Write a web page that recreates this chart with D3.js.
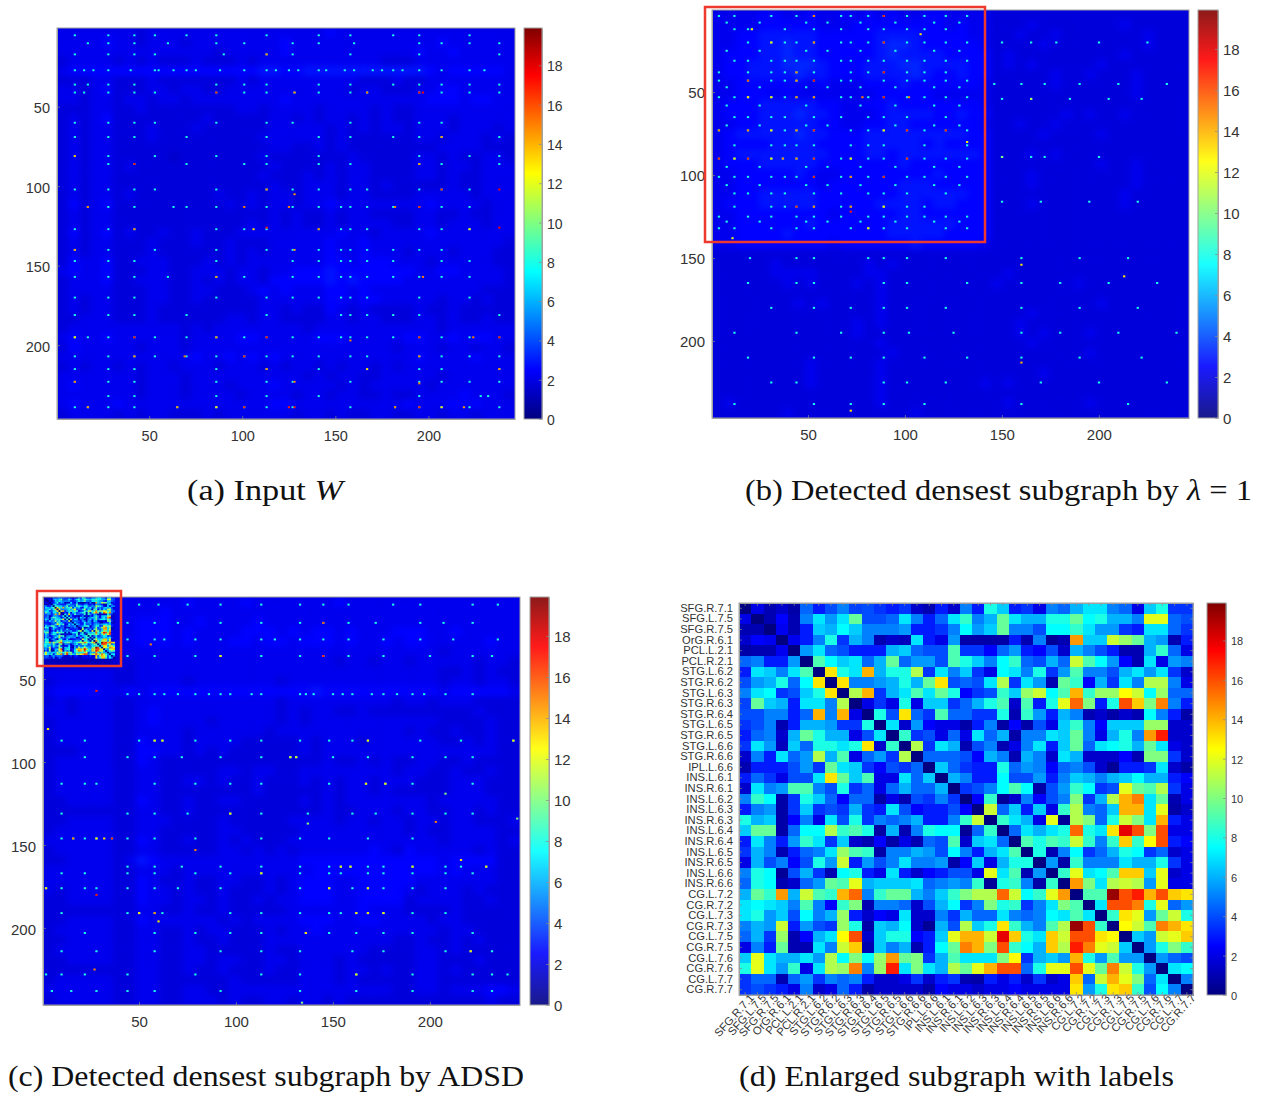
<!DOCTYPE html>
<html>
<head>
<meta charset="utf-8">
<script src="https://d3js.org/d3.v7.min.js"></script>
<style>
  body { margin: 0; background: #fff; }
  svg { display: block; }
  text { font-family: "Liberation Sans", Helvetica, sans-serif; fill: #333; }
  text.caption { font-family: "Liberation Serif", serif; fill: #111; }
</style>
</head>
<body>
<svg id="chart" width="1261" height="1095"></svg>
<script>
// Values. The 246 x 246 matrices are too fine to read
// cell by cell, so each one is a rough estimate: 6-node tiles (digit = level),
// the dotted rows that can be made out ([row, [cols]]) and the brightest cells
// ([row, col, value]).

const nodeTicks = [50, 100, 150, 200];
const barTicks = [0, 2, 4, 6, 8, 10, 12, 14, 16, 18];

const inputTiles = [
  "6666666566 6666666666 6666766666 6666666666 6",
  "6666766566 6566666666 7666666666 6666766666 6",
  "6666666666 6666566666 7666666666 6676676666 6",
  "5666656565 5565556566 6666666665 5566666666 6",
  "6777777777 7777777788 7788888888 8887677777 6",
  "5556655565 5555556566 6666666555 6556666666 6",
  "6656755566 5665566666 6666665665 5566776666 6",
  "6656656656 6566666666 7666666666 6667776776 6",
  "5556655655 5555556656 6665666656 5566666666 6",
  "5656755555 5556555556 6565665656 5566656666 6",
  "5656655565 5565555556 6666565656 6566656665 6",
  "5656655565 5555555566 6666565555 5566566656 5",
  "5656655555 5555555556 6556565555 5555666655 5",
  "5656655555 4555555565 5555556555 5566565566 5",
  "5656656555 5555555556 5555656655 5566566566 6",
  "5656655555 5555555565 5565656655 5566565566 6",
  "5656655555 5555555556 5566656656 5555565566 6",
  "5656656555 5555655656 6566656655 5566666566 6",
  "5756755555 5555565656 6566766666 6667666656 6",
  "5656655555 5555555556 5655656655 5566556556 6",
  "5656655555 5555555656 5655656666 5566566656 6",
  "5756756556 5565556666 6666676656 6667666666 6",
  "5656655565 5565565556 6666766766 6666666666 5",
  "5656655565 5555565656 6666766766 6566656665 5",
  "5766755666 5556565666 6666776777 6665666665 5",
  "6766755566 5566656656 6777877777 7766776666 5",
  "5666755666 5565656657 7777878777 7666666666 5",
  "5666655566 5566555676 7666776766 6666666655 5",
  "5656655566 5565555566 6666776776 6666566565 5",
  "5656655565 5555555566 5655765655 5565565555 5",
  "5566655565 5555566566 5555665665 5566565565 5",
  "5666666666 6565666666 6656666666 6666566666 6",
  "6766766666 6566667766 6667776666 6776676776 6",
  "5766666566 6566666666 6666666666 5666566566 5",
  "6666666666 6676676767 6666666666 6676666766 6",
  "5656656566 5666566656 5665656656 5666666666 6",
  "6666666566 6566666666 6656566556 6666566666 6",
  "6766666566 6566656667 6666656566 6665666666 6",
  "6666666566 6566665666 6566566556 5566667666 5",
  "6766676666 6666666667 7666666666 6766676766 6",
  "5666656566 5556566666 6566565566 5566566566 6"
];

const inputDots = [
  [5,[10,28,42,53,70,86,113,141,158,181,195,222]],
  [10,[17,28,42,60,86,101,127,141,160,195,207,222,238]],
  [17,[10,28,42,53,90,113,127,158,195,238]],
  [27,[10,15,20,28,40,53,55,63,70,75,88,101,113,118,125,130,141,145,155,160,170,175,181,186,195,207,222,230]],
  [36,[10,17,28,42,86,101,113,141,158,181,195,207,222,238]],
  [41,[10,15,28,42,53,86,101,113,128,141,158,167,195,207,222,238]],
  [60,[10,28,42,53,86,113,127,158,195,207]],
  [69,[10,28,42,70,113,141,158,181,195,207,238]],
  [81,[10,28,53,86,113,141,195,222,238]],
  [86,[28,42,70,101,113,141,158,195,207,238]],
  [102,[10,28,42,53,86,113,127,141,158,167,195,207,222]],
  [113,[17,28,42,63,70,86,113,127,141,153,158,167,181,195,207,222]],
  [127,[10,28,42,86,101,113,141,153,158,167,195,207,222]],
  [140,[10,28,53,86,113,127,141,153,158,167,181,195,207]],
  [147,[10,28,42,86,127,141,153,158,167,181,207,222]],
  [157,[10,28,42,60,86,101,127,141,153,158,167,181,195,207,222]],
  [170,[10,28,42,86,113,127,141,153,158,167,195,222]],
  [181,[10,28,42,70,113,153,158,167,181,195,238]],
  [195,[10,17,28,42,53,70,86,101,113,127,141,153,158,167,181,195,207,222,238]],
  [207,[10,28,42,53,70,86,101,113,127,141,158,167,195,207,222,238]],
  [215,[10,28,42,86,113,141,195,207,238]],
  [223,[10,28,42,86,113,127,158,195,207,222,238]],
  [232,[28,42,86,113,141,195,228,232]],
  [239,[10,17,28,42,65,86,101,113,127,158,182,195,207,222,238]]
];

const inputPeaks = [
  [17,113,15],[41,86,17],[41,128,15],[41,167,15],[41,195,17.5],[41,197,17.5],[86,42,17.5],[81,10,14],
  [86,195,14.5],[69,207,14.5],[102,113,15],[105,128,14.5],[102,207,17],[102,238,17.5],[113,17,15],
  [113,101,15],[113,125,15],[113,182,15],[113,195,17],[126,238,17.5],[126,113,17],[127,106,13],
  [127,141,15],[127,42,15],[127,222,13],[140,10,14.5],[140,128,14.5],[157,86,14.5],[157,197,15],
  [195,42,17.5],[195,10,13],[195,113,17.5],[195,195,17],[195,224,15],[195,238,17.5],[197,158,15],
  [195,86,14.5],[207,69,15],[207,42,15],[207,101,17],[207,195,15],[215,113,15],[215,167,13],
  [215,238,15],[223,10,15],[223,128,15],[224,195,15],[239,17,14.5],[239,65,14.5],[239,86,13],
  [239,101,17],[239,128,17],[239,125,17],[239,182,15],[239,195,17],[239,207,13],[239,219,14.5]
];

const lambdaTiles = [
  "666677667667 676766776666 55555555555555555",
  "666677777666 777777776766 55565555555655555",
  "667788888777 778888777766 55655655555556555",
  "667788988777 778998777776 55556555555556555",
  "677788988777 778988887777 56555555555655555",
  "677888999877 788899888877 56565555565555555",
  "677888898877 788889877877 55555655655565555",
  "667777776766 677787777776 55555655555565555",
  "667776766666 667777766666 55555555555565555",
  "677788888776 677877777776 55555555555555555",
  "677788898876 667888877877 55555565655655555",
  "667788888776 677887777776 55655655555555555",
  "678888898877 788888888877 55556555565555555",
  "677778888777 788888787777 55555555555555555",
  "678888888877 788788888887 55565655555555555",
  "677788888777 777787777777 55555555565565555",
  "667777787667 777777787777 55565555555565555",
  "667777777677 777788877777 55565555555565555",
  "667788888777 777788888877 55555555555655555",
  "677788888777 778888788777 55565555555655555",
  "667777777767 777788777777 55555555555555555",
  "667777778777 777888888777 55555555555555555",
  "667777877777 777888887777 55555555555555555",
  "667777777767 777778777776 55555555555555555",
  "5555555555 5555555555 5555555555 5555555555 5",
  "5555565555 5556565555 5555555555 5555555555 5",
  "5555566665 5556655555 5555565555 5555555555 5",
  "5555556565 5565655555 5555655555 5655555555 5",
  "5555555555 5555655555 5555555555 5555555555 5",
  "5555555656 5555655555 5555555555 5556555555 5",
  "5555555555 5555655555 5555555655 5555555555 5",
  "5555555555 5565655555 5555556555 5555555555 5",
  "5555555555 5565555555 5555556565 5565555555 5",
  "5555555555 5555655555 5555555655 5555555555 5",
  "5555555555 5555565555 5555555555 5565555555 5",
  "5555555565 5555655555 5555555555 5555555555 5",
  "5555555565 5555655555 5555555565 5555555555 5",
  "5555555565 5555655555 5556565555 5555555555 5",
  "5555555555 5555655555 5555555555 5555555555 5",
  "5655555555 5555655555 5555565555 5565555555 5",
  "5555556555 5555555655 5555555555 5555555555 5"
];

const lambdaDots = [
  [4,[4,12,31,44,53,67,72,81,89,101,110,121,132]],
  [8,[8,25,49,60,77,95,115,128]],
  [12,[12,19,21,38,53,67,81,89,101,110,121]],
  [20,[19,31,38,44,53,67,72,81,89,101,110,121,132,150,165,178,200,225]],
  [25,[8,25,49,60,77,95,115,128]],
  [31,[12,19,31,38,44,53,67,72,81,89,101,110,121,132]],
  [38,[4,19,31,38,44,53,72,81,89,101,110,121]],
  [43,[4,19,31,38,44,53,67,72,89,101,110,121,132]],
  [45,[146,160,172,190,210,235]],
  [47,[8,25,49,60,77,95,115,128]],
  [53,[4,12,19,31,38,44,53,67,72,81,89,101,110,121,132]],
  [54,[150,165,185,205,222]],
  [58,[8,25,49,77,95,115,128]],
  [65,[12,19,31,38,53,67,81,89,101,121]],
  [70,[8,25,49,60,95,115,128]],
  [73,[4,19,31,38,44,53,72,81,89,101,110,121,132]],
  [82,[12,31,38,44,53,72,81,89,110,132]],
  [89,[150,165,172,200]],
  [90,[4,12,19,31,37,44,53,67,72,81,89,101,110,121,132]],
  [95,[8,25,49,60,77,95,115,128]],
  [101,[4,12,19,31,38,44,53,67,72,81,89,101,110,121,132]],
  [106,[8,25,49,60,77,95,115,128]],
  [111,[12,19,31,38,53,67,81,89,101,121]],
  [116,[150,170,195,220]],
  [119,[12,31,38,44,53,67,72,89,101,110]],
  [125,[4,19,31,44,53,67,81,89,101,110,121,132]],
  [128,[8,25,49,60,77,95,115,128]],
  [132,[4,12,31,44,53,72,81,89,101,121,132]],
  [150,[20,44,53,81,89,101,121,160,190,215]],
  [165,[19,44,53,89,101,132,160,180,205,230]],
  [180,[31,53,72,89,101,121,160,190,220]],
  [195,[12,44,67,89,102,125,160,180,210,240]],
  [210,[19,53,72,89,110,132,160,190,222]],
  [225,[31,44,89,101,121,170,200,235]],
  [238,[12,53,72,89,110,160,215]]
];

const lambdaPeaks = [
  [4,89,17],[20,89,17],[20,53,15],[20,31,13],[38,89,17.5],[38,44,15],[43,19,16],[43,44,15],[43,53,17.5],
  [53,89,17.5],[53,102,15],[53,78,15],[53,31,13],[53,44,15],[53,53,15],[53,19,13],[73,4,15],[73,19,15],
  [73,31,13],[73,44,15],[73,53,17],[73,101,17],[73,121,17],[73,89,13],[90,4,17],[90,19,17],[90,37,15],
  [90,44,15],[90,53,17],[90,101,17],[90,31,13],[90,72,13],[90,12,13],[101,53,17],[101,89,17],[101,72,15],
  [119,44,17],[119,53,15],[122,72,17],[119,72,15],[119,89,13],[12,21,13],[4,53,15],[15,108,13],[80,132,13],
  [132,81,13],[138,11,12],[54,165,11],[89,150,10],[154,160,13],[213,160,14],[161,213,13],[242,72,13]
];

const adsdTiles = [
  "5555556666 6676666766 6666676666 6666666666 6",
  "5555556666 7666666666 6666666666 6666666666 6",
  "5555556677 7667666676 6666666666 6666666666 6",
  "5555556677 7676666777 6767767666 7776676666 6",
  "5555556677 7676667767 7677767667 6776666676 6",
  "5555556666 6666666666 6666666666 6666566666 6",
  "3333335566 6666666666 6666656656 6566666566 5",
  "6666665566 6666666666 6666666666 6666556565 5",
  "5666665566 6656666666 5666666666 6666566566 5",
  "6777766767 7777777777 7778777777 7777677777 6",
  "5656665566 6666666666 5666666666 5665666555 5",
  "6656665567 6666666666 5656655655 5555555655 5",
  "5666665567 6666566666 5656666666 6666555565 5",
  "5666665566 6656666665 6666666666 6565565565 5",
  "5666665576 6656666555 5565666566 6666556565 5",
  "5556665577 6656565555 5565666666 6666666665 5",
  "5666665576 5555555555 5555655656 5566556555 5",
  "5666665566 5555566566 5566666666 5665565565 5",
  "5666665566 5566565565 5565656656 6655566655 5",
  "5666665566 5555555565 5555656656 5555566655 5",
  "5566665576 5565566555 5565656666 6665666665 5",
  "5555555566 5565555555 5555655666 5665566565 5",
  "5566665566 6555565555 5666656656 6566566555 6",
  "5666665566 5555566555 5566666666 6565566665 5",
  "6666665576 5565565655 5666666666 6666566665 6",
  "5666665566 5555566565 6566666676 5766666565 5",
  "5566665687 6666666666 6677777777 7777677775 5",
  "6666665566 6566666666 6667777777 7777676665 5",
  "6666665576 5565566556 5677766777 7766666665 5",
  "6566665576 6565565556 5677766777 7656665655 5",
  "5566665576 6566565565 6677766777 7566665565 5",
  "5555555566 5565565555 5666666766 6555565555 5",
  "5566665576 6666656566 6677766776 6665665555 5",
  "5666665566 5565665556 5667666666 6666566555 5",
  "5566665566 5565565556 6666666666 5565565655 5",
  "5666665566 5566555556 5566666655 5566565555 5",
  "5566665566 5566566556 6566656555 5566555655 5",
  "5555555566 5565565556 5566656656 5566565555 5",
  "5666665566 5555556555 5566656555 5566555555 5",
  "6666665566 5566556666 6666666666 5566566677 6",
  "5666665566 5566656556 6566565555 5555555565 5"
];

const adsdDots = [
  [5,[50,60,75,92,113,133,145,158,181,195,222,235]],
  [16,[44,58,70,92,113,133,145,158,172,195,207,222]],
  [26,[44,58,63,79,92,113,120,133,145,158,176,195,212,235]],
  [36,[44,58,79,92,113,133,145,158,176,200,222,232]],
  [59,[44,50,58,63,70,79,86,92,97,108,113,133,136,140,150,155,160,170,176,183,191,197,208,222]],
  [87,[10,22,50,58,62,79,97,113,133,148,160,168,195,216,243]],
  [97,[22,44,58,72,92,113,128,131,150,168,191,208,222]],
  [113,[10,22,28,58,79,97,113,148,167,177,191,222]],
  [131,[10,44,58,75,97,113,137,160,172,191,208,222]],
  [146,[10,16,22,28,36,44,58,79,113,133,148,168,191]],
  [163,[44,58,72,92,113,133,148,154,159,168,176,191,208,216,229]],
  [167,[10,22,44,58,79,97,113,133,148,154,168,176,191,208,222]],
  [176,[2,10,22,28,44,58,70,92,133,148,160,168,176,191,208]],
  [191,[10,44,50,58,62,97,113,133,148,154,162,168,176,191,208]],
  [203,[22,58,79,97,113,136,148,162,176,191,222]],
  [214,[10,28,58,92,113,133,160,176,208,221,232]],
  [228,[2,10,22,44,79,113,133,162,191,222,232,240]],
  [238,[5,15,28,44,58,92,133,162,191,222,232]]
];

const adsdPeaks = [
  [16,145,16],[36,145,17],[29,56,15],[36,92,13],[57,28,17],[80,3,13],[87,58,13],[87,62,13],[87,168,13],
  [87,243,13],[97,128,12],[113,167,13],[113,177,13],[97,131,12],[119,208,10],[137,137,10],[136,203,15],
  [146,16,15],[146,36,17],[146,28,13],[146,32,13],[153,79,15],[159,216,13],[163,229,13],[163,159,13],
  [163,154,13],[167,113,13],[163,191,13],[176,168,13],[176,148,13],[180,28,17],[176,2,13],[191,58,15],
  [191,168,13],[191,176,13],[191,162,13],[203,136,13],[196,60,13],[214,221,13],[225,27,15],[228,162,13],
  [245,134,10],[131,97,13],[191,50,13],[134,245,10]
];

const subgraphLabels = [
  "SFG.R.7.1","SFG.L.7.5","SFG.R.7.5","OrG.R.6.1","PCL.L.2.1","PCL.R.2.1","STG.L.6.2","STG.R.6.2",
  "STG.L.6.3","STG.R.6.3","STG.R.6.4","STG.L.6.5","STG.R.6.5","STG.L.6.6","STG.R.6.6","IPL.L.6.6",
  "INS.L.6.1","INS.R.6.1","INS.L.6.2","INS.L.6.3","INS.R.6.3","INS.L.6.4","INS.R.6.4","INS.L.6.5",
  "INS.R.6.5","INS.L.6.6","INS.R.6.6","CG.L.7.2","CG.R.7.2","CG.L.7.3","CG.R.7.3","CG.L.7.5",
  "CG.R.7.5","CG.L.7.6","CG.R.7.6","CG.L.7.7","CG.R.7.7"
];

// upper triangle of the symmetric matrix in (d), each row starts right of the diagonal
const subgraphUpper = [
  [2,1,1.5,.8,4.5,3,4,5,3.8,4,3.5,3,3.5,1.5,1,3,1.5,5,3,8,6.5,3,3.5,2,5,4.5,6,7,7,5,4.5,2,6.5,8,3.5,3.5],
  [1,2.5,1,5,7,5.5,7,9.5,4,4,4.5,7,5,3,4.5,7,8.5,5,6,9.5,7,6,6,8,8,9.5,7.5,8,6,6,5,12,12,4.5,4],
  [2.2,1,3,6.5,6,7.5,6.5,5,5,5,5.5,3,3,3.5,5,7.5,5.5,6.5,9.5,5,5,4,7.5,7.5,8.5,7,5.5,5.5,3.5,3,7,7,4.5,3.5],
  [2.2,3,5,8,3.5,6,5,1,1.5,1.2,7,3,2,5.5,.8,.8,.8,.8,3,1,5,.5,1,14.5,6.5,6.5,11.5,10.5,9.5,6,5.5,1,3],
  [5.5,7,4.5,4,3,3,3,6,6.5,4.5,4,4,9,3.5,3.5,2.5,4.5,5.5,3,2.5,4,1.5,6,5,4,3,1,1,6,8.5,4.5,2],
  [9,7.5,6.5,7,4.5,6,9.5,4.5,5.5,5.5,4,9,8,6.5,5,7.5,8.5,4.5,4,6,4.5,11.5,9,7.5,5.5,2.5,1,7,2,5.5,5],
  [13,8,7,14,6,8,8,11,3.5,7,5,6.5,3.5,2,7.5,7,5,8,3.5,5.5,9,5,5,4,6,7,5.5,7,3.5,1.5],
  [13,5,5,5.5,6,8,6,9.5,13,4,4.5,4,7,11,3.5,7,5.5,1,9.5,8.5,2.5,6,3.5,7,5,11,11,5,2],
  [11,14,3.5,6,7,9,7,9.5,8,2.5,3.5,4,8.5,6.5,10.5,11.5,7.5,9,14,8.5,10.5,10.5,12.5,11.5,7.5,10.5,4.5,4.5],
  [2,3.5,2,8,2,6.5,6.5,3.5,4.5,6,8,9,1.5,9,3,8,12,15.5,10,3,8,16,13.5,10,15,5,3],
  [8,4,13,4.5,3.5,9,4.5,4.5,3.5,3.5,8,1,8.5,5.5,3,6,5,1,1.5,.8,1.5,1,7.5,5,3,.8],
  [7,1.5,5.5,2.5,2,2,.8,3,5,.7,2.5,.8,4,2,6.5,8.5,5,2.5,6.5,6.5,6.5,10.5,10.5,1.5,1.5],
  [8.5,3.5,4,2,4.5,2,7,4.5,6,.8,5,5,7,6.5,9.5,5,2,6,8,5,14.5,17,1.5,1.5],
  [11,3.5,7,6,1,4,5,1,2,5,7,3,6.5,9.5,4.5,7,7.5,8,6,9.5,7,2,1.5],
  [4.5,4.5,4.5,4,2.5,6,5,1,6,5,1.5,7,6,1.5,1.5,1.5,2.5,1,10,10,3.5,1.5],
  [6.5,4.5,3.5,3,3,8,4.5,5.5,5,2.5,4.5,5,4,1.5,.5,3,3,3.5,7,1.5,.8],
  [6,5,3,3,7.5,4,4,5.5,3,5,6.5,6,5,6,6.5,7.5,6,6,3,2.5],
  [3.5,4,5,7.5,9,7.5,.8,4,5.5,8.5,7.5,3.5,4,12,9.5,9,11,3.5,2],
  [2.5,8.5,.5,1.5,5,2.5,4,5,10,3.5,6,11,14,15,7,9.5,1,2],
  [11.5,4.5,6.5,3,6.5,2,8.5,11,5,4.5,6.5,14,14,7,12,.8,1.5],
  [8.5,7,6,2,12,.5,11,10,4.5,8,11.5,10,7,14,3,2],
  [4.5,7,6,7,8,15.5,8,7,13,18,16,10,16,2,2],
  [9,8,9,8.5,11.5,8.5,5,8.5,13.5,8.5,12.5,16,3,2.5],
  [8,1,5,7.5,3.5,4.5,6,8,7.5,3.5,4.5,1.5,2],
  [5.5,.8,8.5,5,5,5,7,6,6,8,3.5,2],
  [8.5,12,7,7.5,9,13.5,13.5,6.5,12,1.5,2],
  [14.5,10,7,11,11.5,11,5.5,12,2,2],
  [9,9,19.5,16,17,14,16,13.5,13],
  [7,16,16,15,8,12,4.5,5.5],
  [8.5,13,12,5.5,9.5,11.5,8],
  [12.5,11.5,9,15,14,13],
  [6.5,5.5,11.5,12,13.5],
  [5.5,8,10,8.5],
  [5.5,4.5,4],
  [7,7.5],
  [5],
  []
];

const svg = d3.select("#chart");
const nodeCount = 246;
const barMax = 19.9;
const tileLevel = 0.36;
const dotValue = 8;

const jet = d3.scaleLinear()
    .domain([0, 2.5, 7.5, 12.5, 17.5, 20])
    .range(["#000080", "#0000ff", "#00ffff", "#ffff00", "#ff0000", "#800000"])
    .clamp(true);

// mirror the upper triangle into a full matrix
const subgraph = subgraphLabels.map(() => subgraphLabels.map(() => 0));
subgraphUpper.forEach((row, i) => {
    row.forEach((v, k) => {
        subgraph[i][i + 1 + k] = v;
        subgraph[i + 1 + k][i] = v;
    });
});

const defs = svg.append("defs");
const gradient = defs.append("linearGradient")
    .attr("id", "jetBar")
    .attr("x1", 0).attr("x2", 0).attr("y1", 1).attr("y2", 0);
jet.domain().forEach(v => {
    gradient.append("stop")
        .attr("offset", Math.min(v / barMax, 1))
        .attr("stop-color", jet(v));
});

function styleAxis(g, fontSize)
{
    g.selectAll("path.domain").attr("stroke", "#a0a0a0");
    g.selectAll("line").attr("stroke", "#888").attr("stroke-opacity", 0.7);
    g.selectAll("text").style("font-size", fontSize + "px").attr("fill", "#333");
}

function frame(box)
{
    svg.append("rect")
        .attr("x", box.left)
        .attr("y", box.top)
        .attr("width", box.right - box.left)
        .attr("height", box.bottom - box.top)
        .attr("fill", "none")
        .attr("stroke", "#a0a0a0");
}

function drawColorbar(box, fontSize, opacity)
{
    let y = d3.scaleLinear().domain([0, barMax]).range([box.bottom, box.top]);
    svg.append("rect")
        .attr("x", box.left)
        .attr("y", box.top)
        .attr("width", box.right - box.left)
        .attr("height", box.bottom - box.top)
        .attr("fill", "url(#jetBar)")
        .attr("opacity", opacity);
    let axis = svg.append("g")
        .attr("transform", `translate(${box.right},0)`)
        .call(d3.axisRight(y).tickValues(barTicks).tickSizeOuter(0).tickSizeInner(-3).tickPadding(box.pad));
    styleAxis(axis, fontSize);
    axis.selectAll("text").attr("transform", "translate(0,1)");
    frame(box);
}

let clipCount = 0;

function drawNodeMatrix(box, tiles, dots, peaks, core, fontSize)
{
    let x = d3.scaleLinear().domain([0.5, nodeCount + 0.5]).range([box.left, box.right]);
    let y = d3.scaleLinear().domain([0.5, nodeCount + 0.5]).range([box.top, box.bottom]);
    let tileRows = tiles.map(r => r.replace(/ /g, "").split("").map(c => +c * tileLevel));
    let tileSize = nodeCount / tileRows.length;
    let cellW = x(2) - x(1);
    let cellH = y(2) - y(1);

    let tileCells = [];
    tileRows.forEach((row, i) => row.forEach((v, j) => tileCells.push({ i: i, j: j, v: v })));

    clipCount++;
    defs.append("clipPath")
        .attr("id", "plot" + clipCount)
        .append("rect")
        .attr("x", box.left)
        .attr("y", box.top)
        .attr("width", box.right - box.left)
        .attr("height", box.bottom - box.top);

    let plot = svg.append("g").attr("clip-path", `url(#plot${clipCount})`);
    plot.append("rect")
        .attr("x", box.left - 5)
        .attr("y", box.top - 5)
        .attr("width", box.right - box.left + 10)
        .attr("height", box.bottom - box.top + 10)
        .attr("fill", jet(1.9));

    plot.append("g")
        .style("filter", "blur(3px)")
        .selectAll("rect")
        .data(tileCells)
        .join("rect")
        .attr("x", d => x(0.5 + d.j * tileSize))
        .attr("y", d => y(0.5 + d.i * tileSize))
        .attr("width", d => x(0.5 + (d.j + 1) * tileSize) - x(0.5 + d.j * tileSize))
        .attr("height", d => y(0.5 + (d.i + 1) * tileSize) - y(0.5 + d.i * tileSize))
        .attr("fill", d => jet(d.v));

    let fine = plot.append("g").style("filter", "blur(0.5px)");

    if (core)
    {
        let coreCells = [];
        core.forEach((row, i) => row.forEach((v, j) => coreCells.push({ i: i, j: j, v: v })));
        fine.selectAll("rect.core")
            .data(coreCells)
            .join("rect")
            .attr("class", "core")
            .attr("x", d => x(d.j + 0.5))
            .attr("y", d => y(d.i + 0.5))
            .attr("width", cellW + 0.3)
            .attr("height", cellH + 0.3)
            .attr("fill", d => jet(d.v));
    }

    let dotCells = [];
    dots.forEach(d => d[1].forEach(col => dotCells.push([d[0], col, dotValue])));
    fine.selectAll("rect.dot")
        .data(dotCells.concat(peaks))
        .join("rect")
        .attr("class", "dot")
        .attr("x", d => x(d[1] - 0.5))
        .attr("y", d => y(d[0] - 0.5))
        .attr("width", cellW + 0.3)
        .attr("height", cellH + 0.3)
        .attr("fill", d => jet(d[2]));

    let bottomAxis = svg.append("g")
        .attr("transform", `translate(0,${box.bottom})`)
        .call(d3.axisBottom(x).tickValues(nodeTicks).tickSizeOuter(0).tickSizeInner(-3).tickPadding(box.padX));
    let leftAxis = svg.append("g")
        .attr("transform", `translate(${box.left},0)`)
        .call(d3.axisLeft(y).tickValues(nodeTicks).tickSizeOuter(0).tickSizeInner(-3).tickPadding(box.padY));
    styleAxis(bottomAxis, fontSize);
    styleAxis(leftAxis, fontSize);
    leftAxis.selectAll("text").attr("transform", `translate(0,${box.shiftY})`);

    frame(box);
}

function drawSubgraph(box)
{
    let x = d3.scaleBand().domain(subgraphLabels).range([box.left, box.right]);
    let y = d3.scaleBand().domain(subgraphLabels).range([box.top, box.bottom]);

    let cells = [];
    subgraph.forEach((row, i) => row.forEach((v, j) => cells.push({ r: subgraphLabels[i], c: subgraphLabels[j], v: v })));

    svg.append("g")
        .attr("shape-rendering", "crispEdges")
        .selectAll("rect")
        .data(cells)
        .join("rect")
        .attr("x", d => x(d.c))
        .attr("y", d => y(d.r))
        .attr("width", x.bandwidth() + 0.5)
        .attr("height", y.bandwidth() + 0.5)
        .attr("fill", d => jet(d.v));

    let bottomAxis = svg.append("g")
        .attr("transform", `translate(0,${box.bottom})`)
        .call(d3.axisBottom(x).tickSizeOuter(0).tickSizeInner(-3).tickPadding(7));
    styleAxis(bottomAxis, 11.2);
    bottomAxis.selectAll("text")
        .attr("text-anchor", "end")
        .attr("dx", "0.35em")
        .attr("dy", "0.2em")
        .attr("transform", "rotate(-48)");

    let topAxis = svg.append("g")
        .attr("transform", `translate(0,${box.top})`)
        .call(d3.axisTop(x).tickSizeOuter(0).tickSizeInner(-3).tickFormat(""));
    styleAxis(topAxis, 11);

    let leftAxis = svg.append("g")
        .attr("transform", `translate(${box.left},0)`)
        .call(d3.axisLeft(y).tickSizeOuter(0).tickSizeInner(-3).tickPadding(6));
    styleAxis(leftAxis, 11.2);

    let rightAxis = svg.append("g")
        .attr("transform", `translate(${box.right},0)`)
        .call(d3.axisRight(y).tickSizeOuter(0).tickSizeInner(-3).tickFormat(""));
    styleAxis(rightAxis, 11);

    frame(box);
}

function drawRedBox(x1, y1, x2, y2)
{
    svg.append("rect")
        .attr("x", x1)
        .attr("y", y1)
        .attr("width", x2 - x1)
        .attr("height", y2 - y1)
        .attr("fill", "none")
        .attr("stroke", "#ee3a2e")
        .attr("stroke-width", 2.5);
}

function drawCaption(x, y, width, parts)
{
    let t = svg.append("text")
        .attr("class", "caption")
        .attr("x", x)
        .attr("y", y)
        .attr("textLength", width)
        .attr("lengthAdjust", "spacingAndGlyphs")
        .style("font-size", "29px");
    parts.forEach(p => {
        t.append("tspan")
            .style("font-style", p.italic ? "italic" : "normal")
            .text(p.text);
    });
}

// (a)
drawNodeMatrix({ left: 57, right: 515, top: 28, bottom: 419, padX: 12, padY: 7, shiftY: 1.5 }, inputTiles, inputDots, inputPeaks, null, 14.5);
drawColorbar({ left: 524, right: 542, top: 28, bottom: 419, pad: 5 }, 14, 1);

// (b)
drawNodeMatrix({ left: 712, right: 1189, top: 10, bottom: 418, padX: 11, padY: 7, shiftY: 1 }, lambdaTiles, lambdaDots, lambdaPeaks, null, 15);
drawColorbar({ left: 1198, right: 1218, top: 10, bottom: 418, pad: 5 }, 15, 0.9);
drawRedBox(705, 7, 985, 242);

// (c) the box in the top left holds the same 37 nodes as (d)
drawNodeMatrix({ left: 43, right: 520, top: 597, bottom: 1005, padX: 11, padY: 7, shiftY: 2 }, adsdTiles, adsdDots, adsdPeaks, subgraph, 15);
drawColorbar({ left: 530, right: 549, top: 597, bottom: 1005, pad: 5 }, 15, 0.9);
drawRedBox(37, 591, 121, 666);

// (d)
drawSubgraph({ left: 739, right: 1193, top: 603, bottom: 995 });
drawColorbar({ left: 1207, right: 1226, top: 603, bottom: 995, pad: 5 }, 11, 1);

drawCaption(187, 500, 156, [{ text: "(a) Input " }, { text: "W", italic: true }]);
drawCaption(745, 500, 507, [{ text: "(b) Detected densest subgraph by " }, { text: "λ", italic: true }, { text: " = 1" }]);
drawCaption(8, 1086, 516, [{ text: "(c) Detected densest subgraph by ADSD" }]);
drawCaption(739, 1086, 435, [{ text: "(d) Enlarged subgraph with labels" }]);
</script>
</body>
</html>
